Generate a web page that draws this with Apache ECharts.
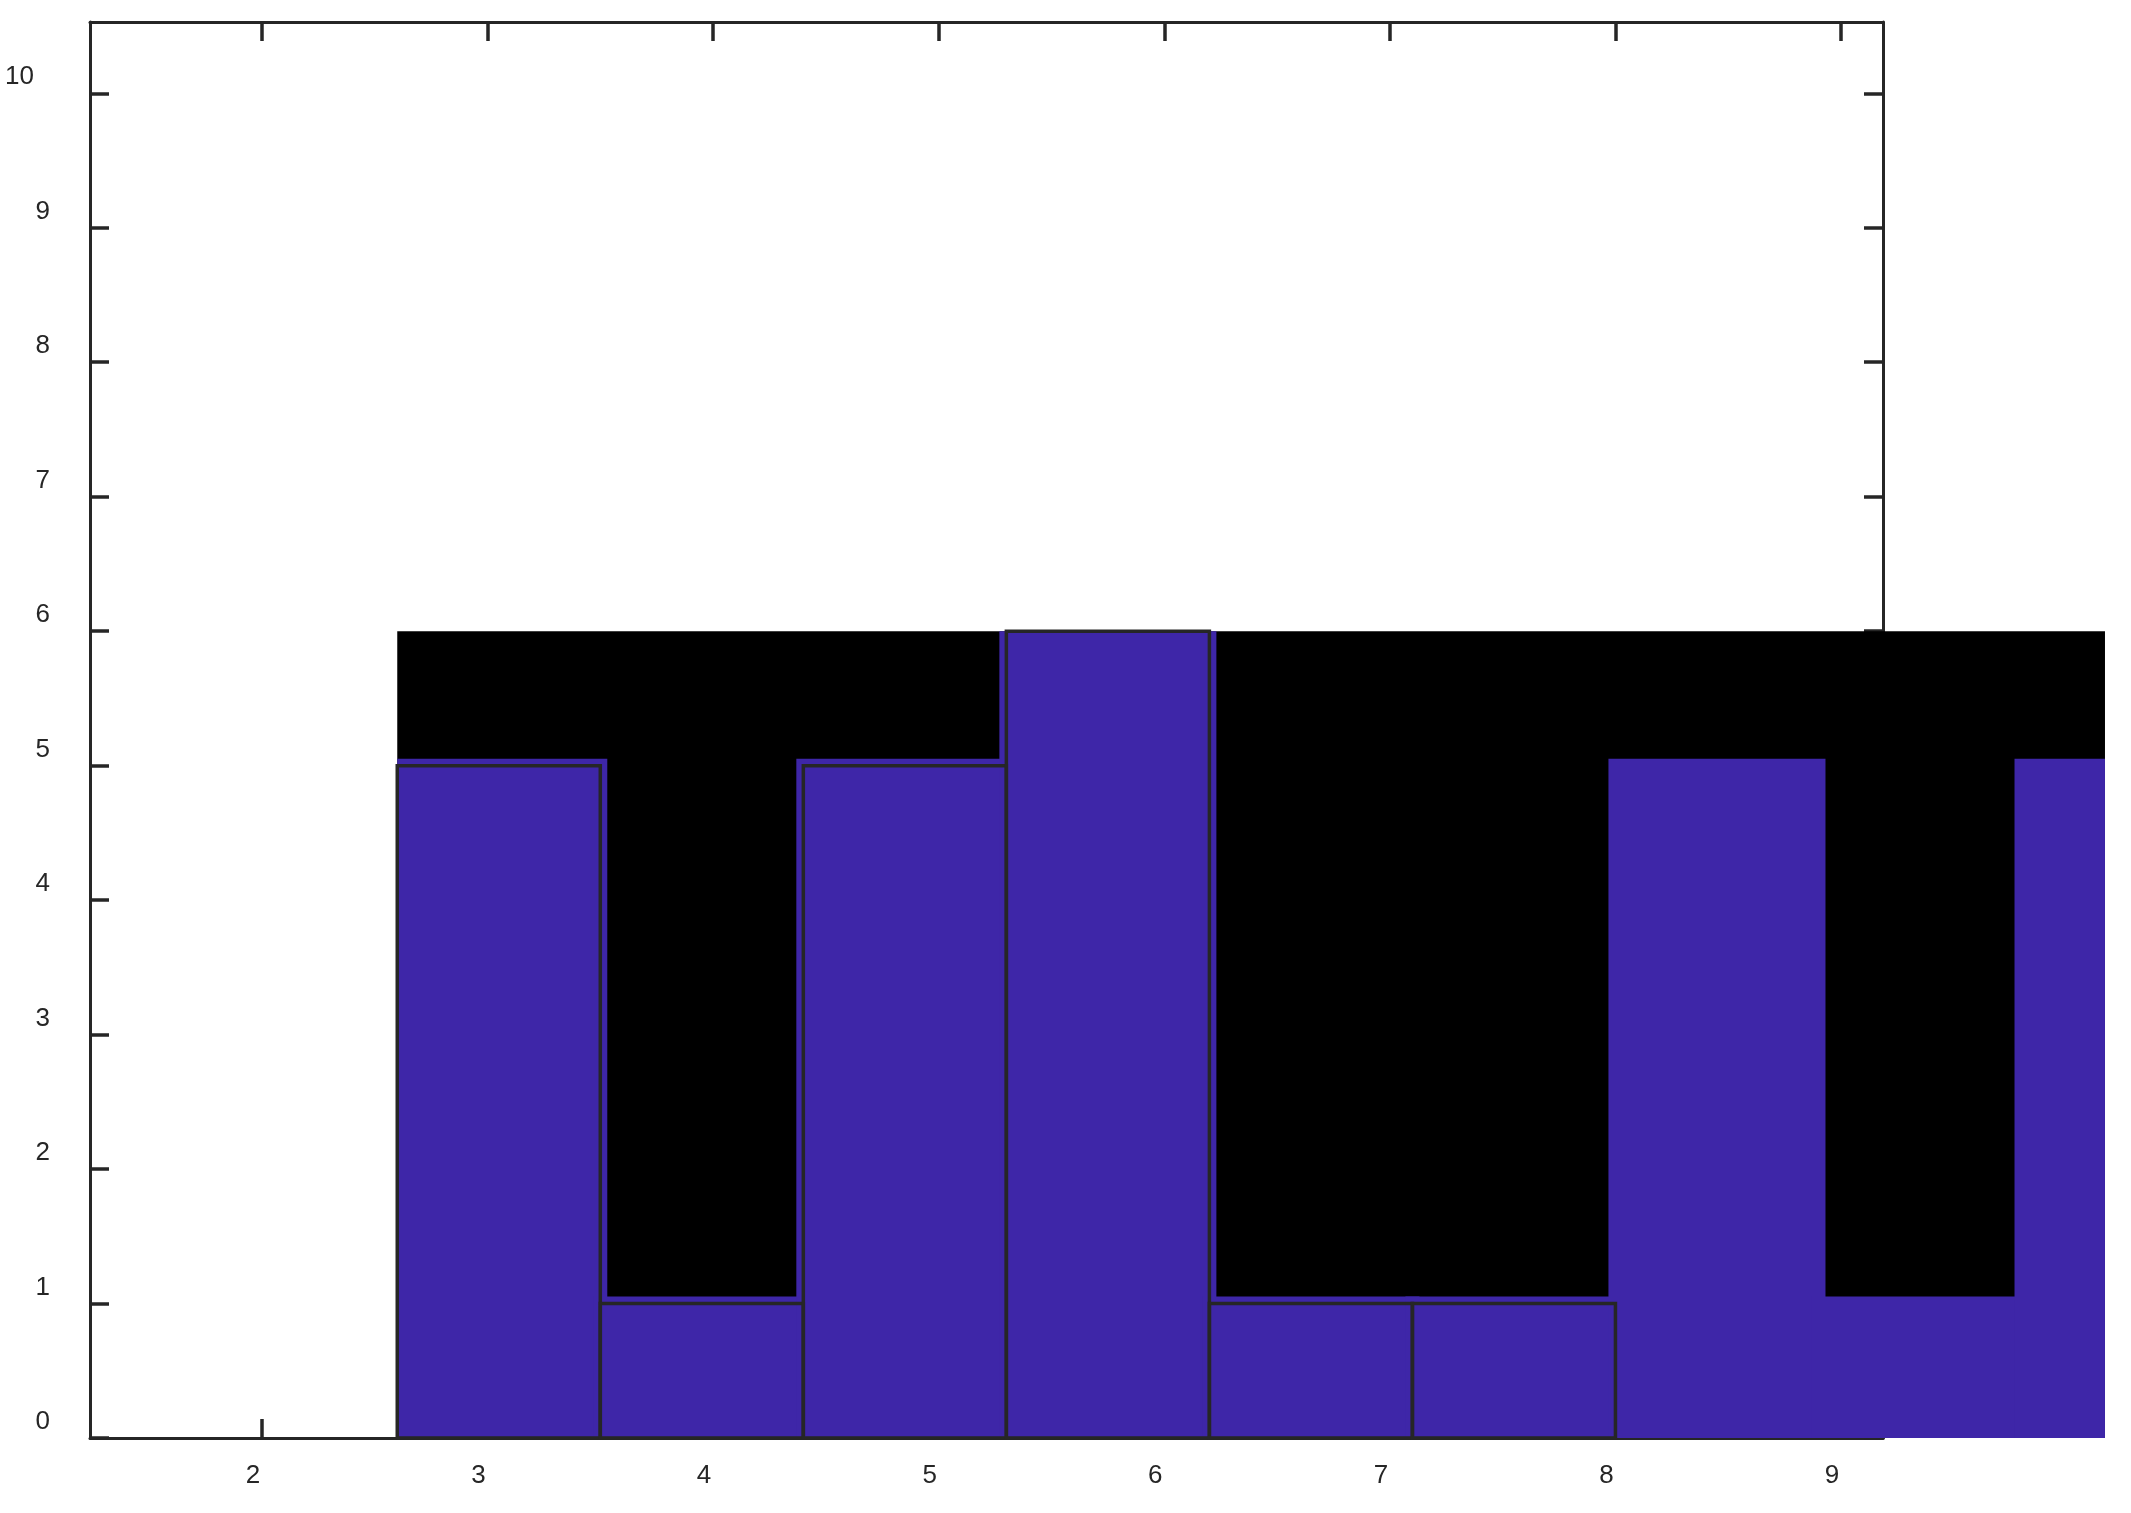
<!DOCTYPE html>
<html>
<head>
<meta charset="utf-8">
<title>Histogram</title>
<script src="https://cdn.jsdelivr.net/npm/echarts@6.0.0/dist/echarts.min.js"></script>
<style>
  html, body { margin: 0; padding: 0; background: #fff; }
  #chart { width: 2131px; height: 1513px; }
</style>
</head>
<body>
<div id="chart"></div>
<script>
// histogram bins and counts
const binStarts = [2.6, 3.5, 4.4, 5.3, 6.2, 7.1, 8.0, 8.9, 9.8]
const binEnds = [3.5, 4.4, 5.3, 6.2, 7.1, 8.0, 8.9, 9.8, 10.7]
const counts = [5, 1, 5, 6, 1, 1, 5, 1, 5]

// black patch drawn behind the bars
const backdropRange = [2.6, 10.17]
const backdropTop = 6

// tick labels
const xTicks = [2, 3, 4, 5, 6, 7, 8, 9]
const yTicks = [0, 1, 2, 3, 4, 5, 6, 7, 8, 9, 10]

const ink = '#262626'
const barColor = '#3e26a8'
const font = "'Liberation Sans', Arial, sans-serif"
const outlinedBins = 6 // only the first bins keep their edge lines
const spread = 7 // fill bleeds a little past the edge lines

const bins = binStarts.map((s, i) => [s, binEnds[i], counts[i]])

function renderBackdrop (params, api) {
  const a = api.coord([api.value(0), api.value(2)])
  const b = api.coord([api.value(1), 0])
  return {
    type: 'rect',
    shape: { x: a[0], y: a[1], width: b[0] - a[0], height: b[1] - a[1] },
    style: { fill: '#000' }
  }
}

function renderFill (params, api) {
  const lo = api.coord([backdropRange[0], backdropTop])
  const hi = api.coord([backdropRange[1], 0])
  const a = api.coord([api.value(0), api.value(2)])
  const b = api.coord([api.value(1), 0])
  const x0 = Math.max(a[0] - spread, lo[0])
  const x1 = Math.min(b[0] + spread, hi[0])
  const y0 = Math.max(a[1] - spread, lo[1])
  return {
    type: 'rect',
    shape: { x: x0, y: y0, width: x1 - x0, height: b[1] - y0 },
    style: { fill: barColor }
  }
}

function renderEdge (params, api) {
  if (params.dataIndex >= outlinedBins) return null
  const a = api.coord([api.value(0), api.value(2)])
  const b = api.coord([api.value(1), 0])
  return {
    type: 'rect',
    shape: { x: a[0], y: a[1], width: b[0] - a[0], height: b[1] - a[1] },
    style: { fill: null, stroke: ink, lineWidth: 3.5 }
  }
}

const chart = echarts.init(document.getElementById('chart'), null, { renderer: 'canvas' })

const axisLine = { show: true, onZero: false, lineStyle: { color: ink, width: 3 } }
const tickStyle = { color: ink, width: 3.5 }

chart.setOption({
  animation: false,
  backgroundColor: '#fff',
  grid: { left: 90, top: 22, right: 248, bottom: 75 },
  xAxis: [{
    type: 'value',
    position: 'bottom',
    min: 1.238,
    max: 9.186,
    axisLine: axisLine,
    splitLine: { show: false },
    axisTick: { show: true, inside: true, length: 19, customValues: xTicks, lineStyle: tickStyle },
    axisLabel: {
      customValues: xTicks,
      color: ink,
      fontFamily: font,
      fontSize: 26,
      margin: 25,
      padding: [0, 18, 0, 0]
    }
  }, {
    type: 'value',
    position: 'top',
    min: 1.238,
    max: 9.186,
    axisLine: axisLine,
    splitLine: { show: false },
    axisTick: { show: true, inside: true, length: 19, customValues: xTicks, lineStyle: tickStyle },
    axisLabel: { show: false }
  }],
  yAxis: [{
    type: 'value',
    position: 'left',
    min: 0,
    max: 10.53,
    axisLine: axisLine,
    splitLine: { show: false },
    axisTick: { show: true, inside: true, length: 19, customValues: yTicks, lineStyle: tickStyle },
    axisLabel: {
      customValues: yTicks,
      color: ink,
      fontFamily: font,
      fontSize: 26,
      margin: 40,
      padding: [0, 0, 32, 0],
      formatter: v => v === 10 ? '{w|10}' : String(v),
      rich: {
        w: { color: ink, fontFamily: font, fontSize: 26, padding: [0, 16, 0, 0] }
      }
    }
  }, {
    type: 'value',
    position: 'right',
    min: 0,
    max: 10.53,
    axisLine: axisLine,
    splitLine: { show: false },
    axisTick: { show: true, inside: true, length: 19, customValues: yTicks, lineStyle: tickStyle },
    axisLabel: { show: false }
  }],
  series: [{
    type: 'custom',
    z: 2,
    clip: false,
    renderItem: renderBackdrop,
    encode: { x: [0, 1], y: 2 },
    data: [[backdropRange[0], backdropRange[1], backdropTop]]
  }, {
    type: 'custom',
    z: 3,
    clip: false,
    renderItem: renderFill,
    encode: { x: [0, 1], y: 2 },
    data: bins
  }, {
    type: 'custom',
    z: 4,
    clip: false,
    renderItem: renderEdge,
    encode: { x: [0, 1], y: 2 },
    data: bins
  }]
})
</script>
</body>
</html>
